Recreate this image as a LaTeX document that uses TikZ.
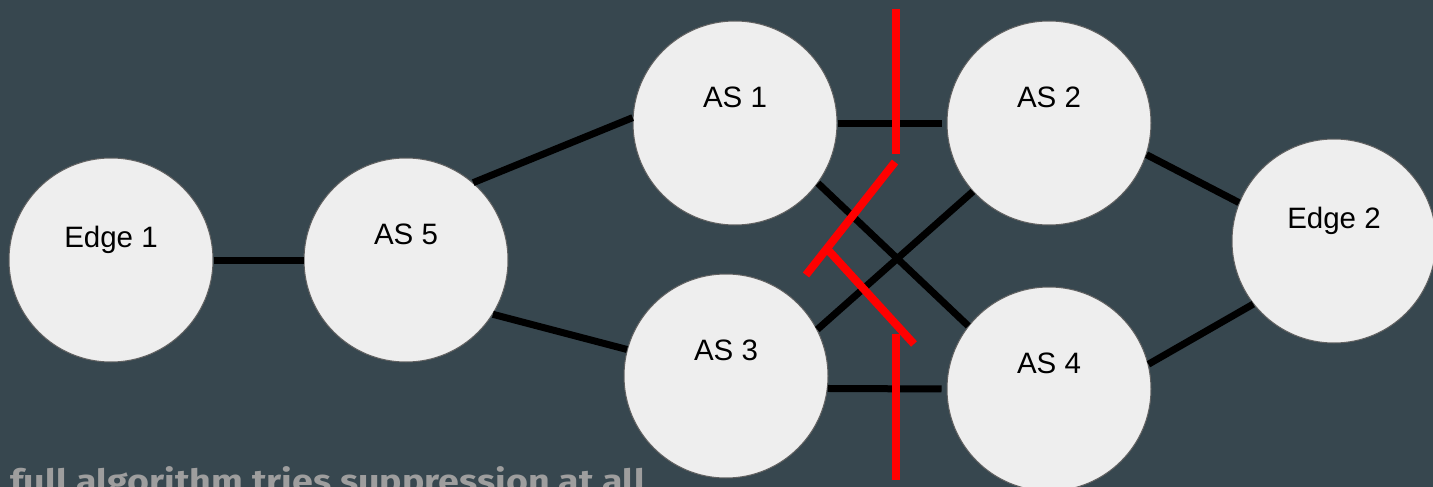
\documentclass[tikz,border=0pt]{standalone}
\usepackage{graphicx}
\usepackage{fontspec}
\setmainfont{Liberation Sans}
\newfontfamily\notefont{Fira Sans}
\usetikzlibrary{positioning}
\definecolor{slate}{HTML}{37474F}
\definecolor{bubble}{HTML}{EEEEEE}
\definecolor{rim}{HTML}{616161}
\definecolor{notegray}{HTML}{9E9E9E}

\begin{document}
\begin{tikzpicture}[
		x=1pt, y=-1pt,
		router/.style={circle, fill=bubble, draw=rim, line width=1pt, minimum size=204pt, inner sep=0pt,
			font=\fontsize{29.5}{35}\selectfont, text=black, text height=21pt, text depth=53pt},
		edgerouter/.style={router, text depth=46pt},
		link/.style={line width=7pt},
		cut/.style={red, line width=8pt},
		note/.style={text=notegray, inner sep=0pt, font=\notefont\bfseries\fontsize{32}{36}\selectfont},
	]
		\fill[slate] (0,0) rectangle (1433,487);
		\useasboundingbox (0,0) rectangle (1433,487);
		
		\node[edgerouter] (edge1) at (111,260) {Edge 1};
		\node[router] (as5) at (406,260) {AS 5};
		\node[router] (as1) at (735,123) {AS 1};
		\node[router] (as3) at (726,376) {AS 3};
		\node[router] (as2) at (1049,123) {AS 2};
		\node[router] (as4) at (1049,389) {AS 4};
		\node[edgerouter] (edge2) at (1334,241) {Edge 2};
		
		\draw[link] (edge1.east) -- (as5.west);
		\draw[link] (as5.49) -- (as1.177);
		\draw[link] (as5.328.4) -- (as3.165.6);
		\draw[link, shorten >=5pt] (as1.east) -- (as2.west);
		\draw[link, shorten >=5pt] (as3.353) -- (as4.west);
		\draw[link] (as1.324) -- (as4.142.5);
		\draw[link] (as3.27.5) -- (as2.222);
		\draw[link] (as2.342) -- (edge2.158);
		\draw[link] (as4.14.7) -- (edge2.218);
		
		\coordinate (cuttop) at (896,9);
		\coordinate (cuttopend) at (896,154);
		\coordinate (slashtop) at (895,162);
		\coordinate (slashbot) at (806,275);
		\coordinate (hookstart) at (829,251);
		\coordinate (hookend) at (914,344);
		\coordinate (cutbot) at (896,334);
		\coordinate (cutbotend) at (896,480);
		\draw[cut] (cuttop) -- (cuttopend);
		\draw[cut] (slashtop) -- (slashbot);
		\draw[cut] (hookstart) -- (hookend);
		\draw[cut] (cutbot) -- (cutbotend);
		
		\node[note, anchor=base west] (caption) at (10,492) {\resizebox{635pt}{\height}{full algorithm tries suppression at all}};
	\end{tikzpicture}
\end{document}
